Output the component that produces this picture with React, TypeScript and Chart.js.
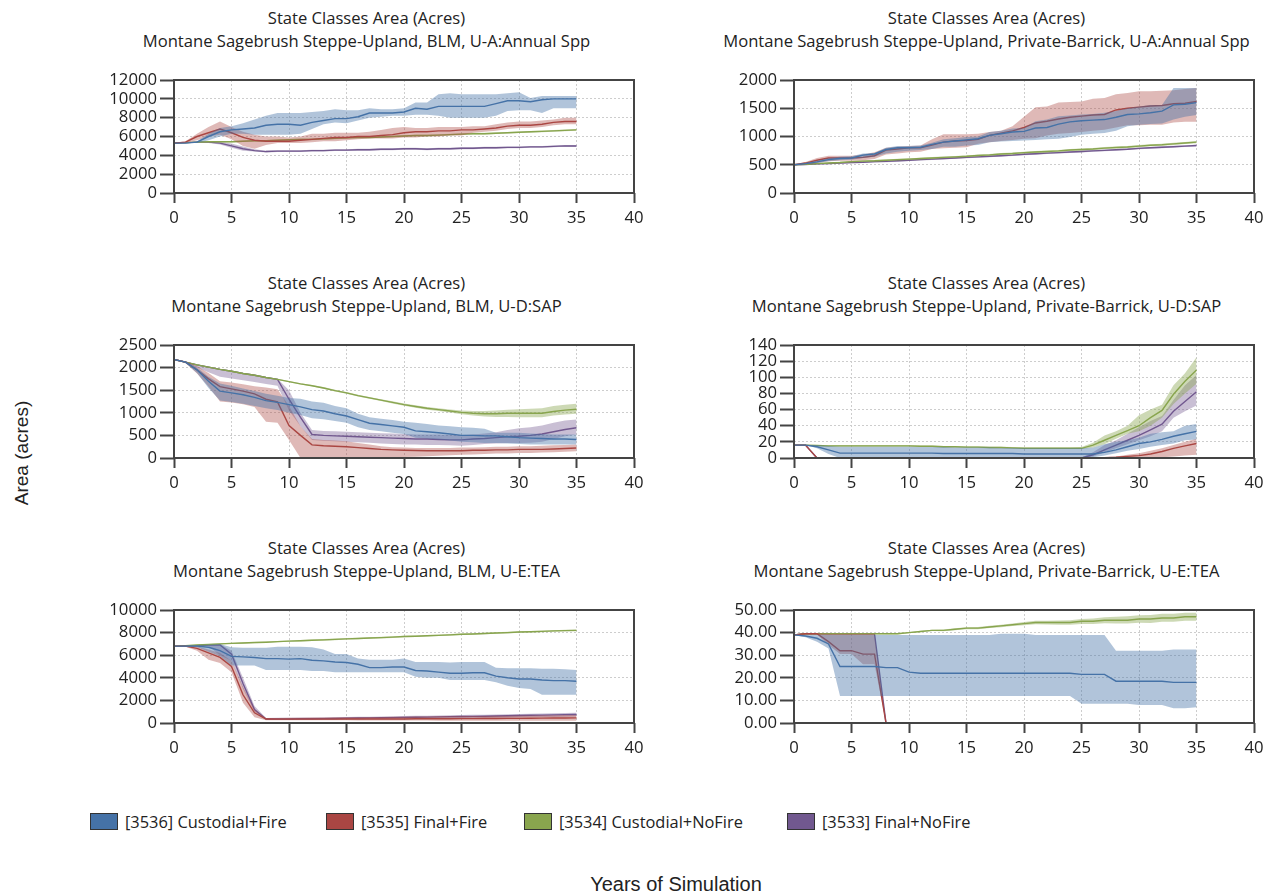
import React, { useEffect, useRef } from "react";
import { Chart, registerables } from "chart.js";

Chart.register(...registerables);

// ---------- data ----------
const YEARS = [0, 1, 2, 3, 4, 5, 6, 7, 8, 9, 10, 11, 12, 13, 14, 15, 16, 17, 18, 19, 20, 21, 22, 23, 24, 25, 26, 27, 28, 29, 30, 31, 32, 33, 34, 35];

const SERIES_NAMES = ["[3536] Custodial+Fire", "[3535] Final+Fire", "[3534] Custodial+NoFire", "[3533] Final+NoFire"];
const SERIES_COLORS = ["#4572A7", "#AA4643", "#89A54E", "#71588F"];
const BAND_COLORS = ["rgba(69,114,167,0.42)", "rgba(170,70,67,0.38)", "rgba(137,165,78,0.42)", "rgba(113,88,143,0.38)"];

const TITLE_1 = "State Classes Area (Acres)";
const PANEL_TITLES = [
  "Montane Sagebrush Steppe-Upland, BLM, U-A:Annual Spp",
  "Montane Sagebrush Steppe-Upland, Private-Barrick, U-A:Annual Spp",
  "Montane Sagebrush Steppe-Upland, BLM, U-D:SAP",
  "Montane Sagebrush Steppe-Upland, Private-Barrick, U-D:SAP",
  "Montane Sagebrush Steppe-Upland, BLM, U-E:TEA",
  "Montane Sagebrush Steppe-Upland, Private-Barrick, U-E:TEA",
];
const Y_MAX = [12000, 2000, 2500, 140, 10000, 50];
const Y_STEP = [2000, 500, 500, 20, 2000, 10];
const Y_DECIMALS = [0, 0, 0, 0, 0, 2];
const X_MAX = 40;
const X_STEP = 5;

// Panel 1: BLM, U-A:Annual Spp
const p1CfMean = [5300,5300,5400,6000,6500,6700,6800,6900,7200,7300,7300,7200,7500,7700,7900,7900,8100,8500,8500,8500,8600,9000,8900,9200,9200,9200,9200,9200,9500,9800,9800,9700,9900,10000,10000,10000];
const p1CfHi = [5300,5300,5500,6300,6900,7100,7400,7800,8200,8500,8500,8500,8600,8700,8900,8800,8800,9000,8900,8900,9000,9600,9600,10500,10600,10500,10500,10500,10500,10600,10700,10100,10300,10300,10300,10300];
const p1CfLo = [5300,5300,5300,5600,6000,6300,6300,6200,6200,6200,6200,6300,6800,7300,7500,7400,7700,8000,8100,8200,8200,8300,8300,8200,8000,8000,8000,8000,8200,8700,8800,8800,8500,9000,9000,9000];
const p1FfMean = [5300,5400,6000,6400,6800,6400,5900,5600,5500,5500,5500,5600,5700,5800,5900,5900,6000,6000,6100,6200,6400,6500,6500,6600,6600,6700,6700,6800,6900,7100,7200,7200,7300,7500,7600,7600];
const p1FfHi = [5300,5500,6300,7000,7600,7000,6500,6200,6000,6000,5900,6000,6300,6300,6400,6400,6400,6500,6700,6900,7000,6900,6900,7000,7000,7000,7100,7100,7300,7500,7600,7600,7700,7800,8000,8000];
const p1FfLo = [5300,5300,5600,6000,6200,5700,5000,4700,5100,5300,5300,5300,5400,5500,5500,5600,5700,5800,5800,5800,5900,5900,6000,6000,6100,6100,6400,6500,6600,6800,6900,6900,7000,7200,7300,7300];
const p1CnMean = [5300,5350,5400,5450,5450,5450,5500,5550,5550,5600,5650,5700,5700,5750,5800,5850,5900,5900,5950,6000,6050,6100,6100,6150,6200,6250,6300,6300,6350,6400,6450,6500,6550,6600,6650,6700];
const p1CnHi = [5300,5400,5450,5500,5520,5530,5580,5630,5640,5690,5740,5790,5790,5840,5890,5940,5990,5990,6040,6090,6140,6190,6190,6240,6290,6340,6390,6390,6440,6490,6540,6590,6640,6690,6740,6790];
const p1CnLo = [5300,5300,5350,5400,5380,5370,5420,5470,5460,5510,5560,5610,5610,5660,5710,5760,5810,5810,5860,5910,5960,6010,6010,6060,6110,6160,6210,6210,6260,6310,6360,6410,6460,6510,6560,6610];
const p1FnMean = [5300,5350,5400,5400,5300,5000,4700,4500,4400,4450,4450,4450,4500,4500,4550,4550,4600,4600,4650,4650,4700,4700,4650,4700,4700,4750,4750,4800,4800,4850,4850,4900,4900,4950,5000,5000];
const p1FnHi = [5300,5400,5450,5500,5450,5250,4950,4650,4500,4550,4550,4550,4600,4600,4650,4650,4700,4700,4750,4750,4800,4800,4750,4800,4800,4850,4850,4900,4900,4950,4950,5000,5000,5050,5100,5100];
const p1FnLo = [5300,5300,5350,5300,5150,4800,4500,4400,4300,4350,4350,4350,4400,4400,4450,4450,4500,4500,4550,4550,4600,4600,4550,4600,4600,4650,4650,4700,4700,4750,4750,4800,4800,4850,4900,4900];

// Panel 2: Private-Barrick, U-A:Annual Spp
const p2CfMean = [500,520,550,590,610,620,670,690,770,800,800,810,860,900,920,940,960,1020,1050,1080,1090,1150,1160,1220,1260,1280,1290,1300,1340,1390,1400,1420,1450,1560,1570,1600];
const p2CfHi = [500,530,570,620,640,650,700,710,800,830,830,840,890,950,970,990,1000,1080,1100,1140,1150,1270,1300,1360,1370,1390,1400,1420,1450,1500,1530,1560,1560,1860,1860,1860];
const p2CfLo = [500,510,530,560,580,590,620,640,700,730,750,760,780,820,820,840,850,900,910,920,930,940,950,960,990,1030,1050,1060,1100,1180,1210,1220,1230,1300,1350,1380];
const p2FfMean = [500,530,580,620,620,620,630,660,760,780,800,800,850,900,920,930,950,1020,1060,1100,1160,1240,1270,1310,1340,1360,1380,1390,1470,1500,1520,1540,1550,1580,1590,1620];
const p2FfHi = [500,550,620,660,660,660,680,720,800,820,830,840,950,1040,1040,1040,1050,1080,1100,1180,1350,1520,1530,1600,1610,1620,1670,1680,1750,1770,1800,1800,1810,1820,1840,1860];
const p2FfLo = [500,510,530,560,570,570,580,600,680,700,720,730,780,790,800,810,870,900,920,940,960,970,1020,1050,1060,1080,1100,1120,1160,1200,1200,1210,1210,1250,1260,1260];
const p2CnMean = [500,510,520,530,540,555,565,570,580,590,600,610,620,630,640,650,665,675,690,700,715,725,735,745,760,770,780,795,805,815,830,845,855,870,885,900];
const p2CnHi = [505,520,532,543,553,568,579,585,595,605,615,626,636,646,656,666,681,692,707,717,732,742,752,763,778,788,798,813,823,834,849,864,874,889,904,919];
const p2CnLo = [495,500,508,517,527,542,551,555,565,575,585,594,604,614,624,634,649,658,673,683,698,708,718,727,742,752,762,777,787,796,811,826,836,851,866,881];
const p2FnMean = [500,505,515,520,530,540,545,555,560,570,580,590,600,610,620,630,640,650,660,670,685,695,705,715,725,735,745,755,765,775,790,800,810,820,830,840];
const p2FnHi = [505,515,527,533,543,553,559,569,575,585,595,605,615,625,635,645,655,665,676,686,701,711,721,731,741,751,761,771,781,791,806,816,826,836,846,856];
const p2FnLo = [495,495,503,507,517,527,531,541,545,555,565,575,585,595,605,615,625,635,644,654,669,679,689,699,709,719,729,739,749,759,774,784,794,804,814,824];

// Panel 3: BLM, U-D:SAP
const p3CfMean = [2180,2120,1950,1700,1480,1440,1400,1340,1270,1230,1180,1130,1070,1040,980,930,850,770,740,710,680,600,580,560,530,500,500,490,490,470,450,440,430,420,420,410];
const p3CfHi = [2180,2140,2000,1800,1650,1600,1540,1480,1420,1380,1330,1310,1250,1220,1150,1100,980,900,870,840,800,780,750,720,700,680,670,650,560,560,560,540,530,520,520,520];
const p3CfLo = [2180,2100,1880,1550,1270,1240,1200,1150,1100,1060,1000,950,880,860,820,780,680,620,590,560,530,450,430,410,390,360,350,330,330,320,310,300,300,300,300,300];
const p3FfMean = [2180,2120,1950,1750,1580,1530,1480,1420,1300,1240,720,500,290,270,260,250,230,210,190,180,170,165,160,160,160,160,170,170,180,180,190,190,190,200,210,220];
const p3FfHi = [2180,2140,2030,1880,1700,1670,1630,1590,1560,1520,1150,700,420,400,390,370,330,300,260,240,230,220,220,220,220,230,230,240,250,250,260,260,270,280,290,300];
const p3FfLo = [2180,2100,1870,1580,1250,1230,1190,1130,800,780,400,0,0,0,0,0,0,0,0,10,20,30,40,50,60,70,80,90,100,100,110,110,120,130,140,150];
const p3CnMean = [2180,2120,2060,2010,1960,1920,1870,1830,1780,1740,1690,1640,1600,1550,1490,1440,1380,1330,1280,1230,1180,1140,1100,1070,1040,1010,990,980,980,990,990,990,990,1030,1060,1080];
const p3CnHi = [2190,2130,2075,2025,1975,1935,1885,1845,1795,1755,1705,1655,1615,1570,1510,1460,1400,1350,1300,1255,1205,1170,1130,1100,1075,1050,1040,1040,1050,1070,1080,1090,1100,1150,1180,1200];
const p3CnLo = [2170,2110,2045,1995,1945,1905,1855,1815,1765,1725,1675,1625,1585,1530,1470,1420,1360,1310,1260,1205,1155,1110,1070,1040,1005,970,940,920,910,910,900,900,900,940,960,980];
const p3FnMean = [2180,2120,2060,2010,1960,1920,1870,1830,1780,1740,1300,900,520,500,490,480,470,460,450,440,430,420,420,410,400,400,420,430,450,470,480,500,530,580,630,670];
const p3FnHi = [2190,2135,2075,2025,1975,1935,1885,1845,1795,1755,1500,1000,620,600,590,580,570,560,550,540,530,520,520,520,510,510,520,540,570,620,660,680,720,780,830,850];
const p3FnLo = [2170,2100,2000,1900,1800,1760,1720,1680,1640,1600,1050,700,400,380,370,360,350,340,320,310,300,300,290,290,280,270,290,310,320,330,330,340,360,420,480,520];

// Panel 4: Private-Barrick, U-D:SAP
const p4CfMean = [16,16,14,10,6,6,6,6,6,6,6,6,6,5.5,5.5,5.5,5.5,5.5,5.5,5.5,5,5,5,5,5,5,5,7,10,14,18,20,23,27,30,33];
const p4CfHi = [16,16,16,15,14,14,14,14,14,14,14,13.5,13.5,13.5,13,13,13,13,12.5,12.5,12,12,12,12,12,12,13,17,20,22,25,30,32,33,40,42];
const p4CfLo = [16,16,12,5,0,0,0,0,0,0,0,0,0,0,0,0,0,0,0,0,0,0,0,0,0,0,1,3,6,9,11,14,16,18,22,23];
const p4FfMean = [16,16,0,0,0,0,0,0,0,0,0,0,0,0,0,0,0,0,0,0,0,0,0,0,0,0,0,0.5,1,2,3,5,8,12,15,18];
const p4FfHi = [16,16,0,0,0,0,0,0,0,0,0,0,0,0,0,0,0,0,0,0,0,0,0,0,0,0,0.5,1,2,4,6,9,12,16,20,24];
const p4FfLo = [16,16,0,0,0,0,0,0,0,0,0,0,0,0,0,0,0,0,0,0,0,0,0,0,0,0,0,0,0,0,0,0,1,2,3,4];
const p4CnMean = [16,16,15.5,15,15,15,15,15,15,15,15,14.5,14.5,14,14,13.5,13.5,13,13,12.5,12,12,12,12,12,12,16,22,28,34,40,50,59,79,95,109];
const p4CnHi = [16.5,16.5,16,16,16,16,16,16,16,16,16,15.5,15.5,15,15,14.5,14.5,14,14,13.5,13,13,13,13,13,13.5,19,28,33,40,53,60,66,90,105,125];
const p4CnLo = [15.5,15.5,15,14,14,14,14,14,14,14,14,13.5,13.5,13,13,12.5,12.5,12,12,11.5,11,11,11,11,11,11,13,17,24,30,33,40,50,67,80,92];
const p4FnMean = [16,16,0,0,0,0,0,0,0,0,0,0,0,0,0,0,0,0,0,0,0,0,0,0,0,0,4,10,16,22,28,35,42,58,70,82];
const p4FnHi = [16,16,0,0,0,0,0,0,0,0,0,0,0,0,0,0,0,0,0,0,0,0,0,0,0,0.5,7,16,22,30,38,46,52,72,90,103];
const p4FnLo = [16,16,0,0,0,0,0,0,0,0,0,0,0,0,0,0,0,0,0,0,0,0,0,0,0,0,2,7,12,17,22,27,33,50,58,65];

// Panel 5: BLM, U-E:TEA
const p5CfMean = [6800,6800,6800,6700,6400,5900,5850,5800,5700,5700,5650,5700,5550,5500,5400,5350,5200,4900,4900,4950,4950,4650,4600,4500,4400,4400,4450,4450,4150,4000,3900,3900,3800,3750,3750,3700];
const p5CfHi = [6800,6850,6900,6950,7000,6700,6650,6650,6650,6750,6750,6750,6700,6500,6100,6100,5700,5600,5600,5600,5700,5400,5400,5400,5350,5400,5400,5400,4900,4850,4850,4850,4800,4800,4750,4700];
const p5CfLo = [6800,6800,6700,6300,5900,5100,5100,5100,4700,4700,4700,4700,4600,4600,4500,4500,4500,4500,4500,4500,4500,4100,4000,4000,3800,3800,3800,3800,3600,3300,3100,3000,2500,2500,2500,2500];
const p5FfMean = [6800,6800,6600,6200,5800,5000,2500,900,350,340,340,340,340,340,340,350,350,350,360,360,360,370,370,380,380,390,390,400,400,410,410,420,430,440,440,450];
const p5FfHi = [6800,6850,6800,6500,6200,5500,3200,1200,450,450,460,470,480,490,500,510,520,530,540,550,560,570,580,590,600,610,620,630,640,650,660,670,680,690,700,700];
const p5FfLo = [6800,6750,6400,5600,5300,4500,1800,500,250,250,250,250,250,240,240,240,230,230,230,220,220,220,220,210,210,210,210,200,200,200,200,200,200,200,200,200];
const p5CnMean = [6800,6850,6900,6950,7000,7050,7080,7120,7150,7200,7250,7280,7320,7360,7400,7450,7480,7520,7560,7600,7650,7680,7720,7760,7800,7850,7880,7920,7960,8000,8050,8080,8110,8150,8180,8200];
const p5CnHi = [6820,6880,6940,6990,7050,7100,7140,7180,7210,7260,7310,7340,7390,7430,7470,7520,7550,7590,7630,7670,7720,7750,7790,7830,7870,7920,7950,7990,8030,8070,8120,8150,8180,8220,8250,8270];
const p5CnLo = [6780,6820,6860,6910,6950,7000,7020,7060,7090,7140,7190,7220,7250,7290,7330,7380,7410,7450,7490,7530,7580,7610,7650,7690,7730,7780,7810,7850,7890,7930,7980,8010,8040,8080,8110,8130];
const p5FnMean = [6800,6800,6850,6900,6900,6100,3500,1200,350,350,360,370,380,390,400,430,440,450,460,480,500,510,520,540,560,580,590,600,620,640,660,680,700,720,740,750];
const p5FnHi = [6800,6850,6900,6950,7000,6400,4000,1500,450,460,470,480,490,500,510,540,550,560,580,600,620,640,650,670,690,710,720,740,760,780,800,820,840,860,880,900];
const p5FnLo = [6800,6750,6800,6800,6000,5500,3000,1000,300,300,300,310,310,320,320,330,340,350,360,370,380,390,400,410,420,430,440,450,460,470,480,500,510,530,550,570];

// Panel 6: Private-Barrick, U-E:TEA
const p6CfMean = [39,38.5,37.5,35,25,25,25,25,24.5,24.5,22.5,22,22,22,22,22,22,22,22,22,22,22,22,22,22,21.5,21.5,21.5,18.5,18.5,18.5,18.5,18.5,18,18,18];
const p6CfHi = [39,39,39,39,39,39,39,39,39,39,39,39,39,39,39,39,39,39,39.5,39.5,39.5,39,39,39,39,39,39,39,32,32,32,32,32,32.5,32.5,32.5];
const p6CfLo = [39,38,36,33,12,12,12,12,12,12,12,12,12,12,12,12,12,12,12,12,12,12,12,12,12,8.5,8.5,8.5,8.5,8.5,8,8,8,6.5,6.5,7];
const p6FfMean = [39,39.5,39.5,36,32,32,30.5,30.5,0,0,0,0,0,0,0,0,0,0,0,0,0,0,0,0,0,0,0,0,0,0,0,0,0,0,0,0];
const p6FfHi = [39,39.8,39.8,39.5,39.5,39.5,39.5,39.5,0,0,0,0,0,0,0,0,0,0,0,0,0,0,0,0,0,0,0,0,0,0,0,0,0,0,0,0];
const p6FfLo = [39,39.2,39.2,34.5,30.5,30.5,26,26,0,0,0,0,0,0,0,0,0,0,0,0,0,0,0,0,0,0,0,0,0,0,0,0,0,0,0,0];
const p6CnMean = [39,39.5,39.5,39.5,39.5,39.5,39.5,39.5,39.5,39.5,40,40.5,41,41,41.5,42,42,42.5,43,43.5,44,44.5,44.5,44.5,44.5,45,45,45.5,45.5,45.5,46,46,46.5,46.5,47,47];
const p6CnHi = [39,39.7,39.7,39.7,39.7,39.7,39.7,39.7,39.8,39.8,40.3,40.8,41.3,41.4,41.9,42.4,42.5,43,43.5,44,44.7,45.2,45.3,45.4,45.5,46,46.2,46.8,47,47.2,47.7,47.8,48.3,48.4,48.8,48.8];
const p6CnLo = [39,39.3,39.3,39.3,39.3,39.3,39.3,39.3,39.2,39.2,39.7,40.2,40.7,40.6,41.1,41.5,41.5,42,42.4,42.9,43.3,43.7,43.6,43.5,43.5,43.8,43.8,44.2,44,44,44.4,44.3,44.8,44.8,45.3,45.3];
const p6FnMean = [39,39.5,39.5,39.5,39.5,39.5,39.5,39.5,0,0,0,0,0,0,0,0,0,0,0,0,0,0,0,0,0,0,0,0,0,0,0,0,0,0,0,0];
const p6FnHi = [39,39.7,39.7,39.7,39.7,39.7,39.7,39.7,0,0,0,0,0,0,0,0,0,0,0,0,0,0,0,0,0,0,0,0,0,0,0,0,0,0,0,0];
const p6FnLo = [39,39.3,39.3,39.3,39.3,39.3,39.3,39.3,0,0,0,0,0,0,0,0,0,0,0,0,0,0,0,0,0,0,0,0,0,0,0,0,0,0,0,0];

// [mean, lo, hi] per series (Custodial+Fire, Final+Fire, Custodial+NoFire, Final+NoFire)
const PANEL_DATA: number[][][][] = [
  [[p1CfMean, p1CfLo, p1CfHi], [p1FfMean, p1FfLo, p1FfHi], [p1CnMean, p1CnLo, p1CnHi], [p1FnMean, p1FnLo, p1FnHi]],
  [[p2CfMean, p2CfLo, p2CfHi], [p2FfMean, p2FfLo, p2FfHi], [p2CnMean, p2CnLo, p2CnHi], [p2FnMean, p2FnLo, p2FnHi]],
  [[p3CfMean, p3CfLo, p3CfHi], [p3FfMean, p3FfLo, p3FfHi], [p3CnMean, p3CnLo, p3CnHi], [p3FnMean, p3FnLo, p3FnHi]],
  [[p4CfMean, p4CfLo, p4CfHi], [p4FfMean, p4FfLo, p4FfHi], [p4CnMean, p4CnLo, p4CnHi], [p4FnMean, p4FnLo, p4FnHi]],
  [[p5CfMean, p5CfLo, p5CfHi], [p5FfMean, p5FfLo, p5FfHi], [p5CnMean, p5CnLo, p5CnHi], [p5FnMean, p5FnLo, p5FnHi]],
  [[p6CfMean, p6CfLo, p6CfHi], [p6FfMean, p6FfLo, p6FfHi], [p6CnMean, p6CnLo, p6CnHi], [p6FnMean, p6FnLo, p6FnHi]],
];

// ---------- layout ----------
const FONT = "'Open Sans', 'DejaVu Sans', sans-serif";
const TICK_SIZE = 16.7;
const AXIS_W = 75;
const PAD_R = 20;
const PAD_T = 10;
const XAXIS_H = 36;
const PLOT_W = 460;
const PLOT_H = 116;
const COL_LEFT = [174, 794];
const ROW_TOP = [77, 342, 607];
const TITLE_TOP = [6, 271, 536];

const pts = (ys: number[]) => ys.map((y, i) => ({ x: YEARS[i], y }));

const framePlugin = {
  id: "frame",
  afterDatasetsDraw(chart: any) {
    const { ctx, chartArea: a } = chart;
    ctx.save();
    ctx.strokeStyle = "#444";
    ctx.lineWidth = 2;
    ctx.strokeRect(Math.round(a.left), Math.round(a.top), Math.round(a.right - a.left), Math.round(a.bottom - a.top));
    ctx.restore();
  },
};

function Panel({ idx }: { idx: number }) {
  const ref = useRef<HTMLCanvasElement | null>(null);
  useEffect(() => {
    const datasets: any[] = [];
    PANEL_DATA[idx].forEach((s, k) => {
      const [mean, lo, hi] = s;
      datasets.push({
        data: pts(lo), borderWidth: 0, borderColor: "transparent", pointRadius: 0, fill: false,
      });
      datasets.push({
        data: pts(hi), borderWidth: 0, borderColor: "transparent", pointRadius: 0, fill: "-1",
        backgroundColor: BAND_COLORS[k],
      });
      datasets.push({
        label: SERIES_NAMES[k], data: pts(mean), borderWidth: 1.4, borderColor: SERIES_COLORS[k],
        pointRadius: 0, fill: false,
      });
    });
    const dec = Y_DECIMALS[idx];
    const chart = new Chart(ref.current as HTMLCanvasElement, {
      type: "line",
      data: { datasets },
      plugins: [framePlugin],
      options: {
        animation: false,
        responsive: false,
        devicePixelRatio: 1,
        layout: { padding: { left: 0, right: PAD_R, top: PAD_T, bottom: 0 } },
        elements: { line: { tension: 0 } },
        plugins: { legend: { display: false }, tooltip: { enabled: false }, title: { display: false } },
        scales: {
          x: {
            type: "linear", min: 0, max: X_MAX,
            ticks: { stepSize: X_STEP, color: "#222", font: { family: FONT, size: TICK_SIZE }, padding: 5, maxRotation: 0, autoSkip: false },
            grid: { color: "#cdcdcd", lineWidth: 1, tickColor: "#444", tickLength: 10, tickWidth: 2 },
            border: { display: false, dash: [2, 2] },
            afterFit: (s: any) => { s.height = XAXIS_H; },
          },
          y: {
            min: 0, max: Y_MAX[idx],
            ticks: {
              stepSize: Y_STEP[idx], color: "#222", font: { family: FONT, size: TICK_SIZE }, padding: 3, autoSkip: false,
              callback: (v: any) => Number(v).toFixed(dec),
            },
            grid: { color: "#cdcdcd", lineWidth: 1, tickColor: "#444", tickLength: 14, tickWidth: 2 },
            border: { display: false, dash: [2, 2] },
            afterFit: (s: any) => { s.width = AXIS_W; },
          },
        },
      },
    } as any);
    return () => chart.destroy();
  }, [idx]);

  const col = idx % 2;
  const row = Math.floor(idx / 2);
  const left = COL_LEFT[col] - AXIS_W;
  const top = ROW_TOP[row] - PAD_T;
  const w = AXIS_W + PLOT_W + PAD_R;
  const h = PAD_T + PLOT_H + XAXIS_H;
  return (
    <>
      <div style={{
        position: "absolute", left: COL_LEFT[col] - AXIS_W, top: TITLE_TOP[row], width: AXIS_W + PLOT_W,
        textAlign: "center", fontFamily: FONT, fontSize: 16.6, lineHeight: "23px", color: "#222", whiteSpace: "nowrap",
      }}>
        <div>{TITLE_1}</div>
        <div>{PANEL_TITLES[idx]}</div>
      </div>
      <canvas ref={ref} width={w} height={h} style={{ position: "absolute", left, top, width: w, height: h }} />
    </>
  );
}

const LEGEND_X = [90, 326, 524, 787];

export default function App() {
  return (
    <div style={{ position: "absolute", left: 0, top: 0, width: 1272, height: 892, background: "#fff", overflow: "hidden" }}>
      {[0, 1, 2, 3, 4, 5].map((i) => <Panel key={i} idx={i} />)}
      {SERIES_NAMES.map((name, k) => (
        <div key={name} style={{ position: "absolute", left: LEGEND_X[k], top: 811, height: 20, display: "flex", alignItems: "center", whiteSpace: "nowrap" }}>
          <div style={{ width: 26, height: 15, background: SERIES_COLORS[k], border: "1px solid #333" }} />
          <span style={{ marginLeft: 7, fontFamily: FONT, fontSize: 16.4, color: "#222" }}>{name}</span>
        </div>
      ))}
      <div style={{ position: "absolute", left: 0, width: 1352, top: 871, textAlign: "center", fontFamily: "'Liberation Sans', Arial, sans-serif", fontSize: 20, lineHeight: "26px", color: "#222" }}>
        Years of Simulation
      </div>
      <div style={{
        position: "absolute", left: 22, top: 453, transform: "translate(-50%, -50%) rotate(-90deg)",
        fontFamily: "'Liberation Sans', Arial, sans-serif", fontSize: 19, color: "#222", whiteSpace: "nowrap",
      }}>
        Area (acres)
      </div>
    </div>
  );
}
